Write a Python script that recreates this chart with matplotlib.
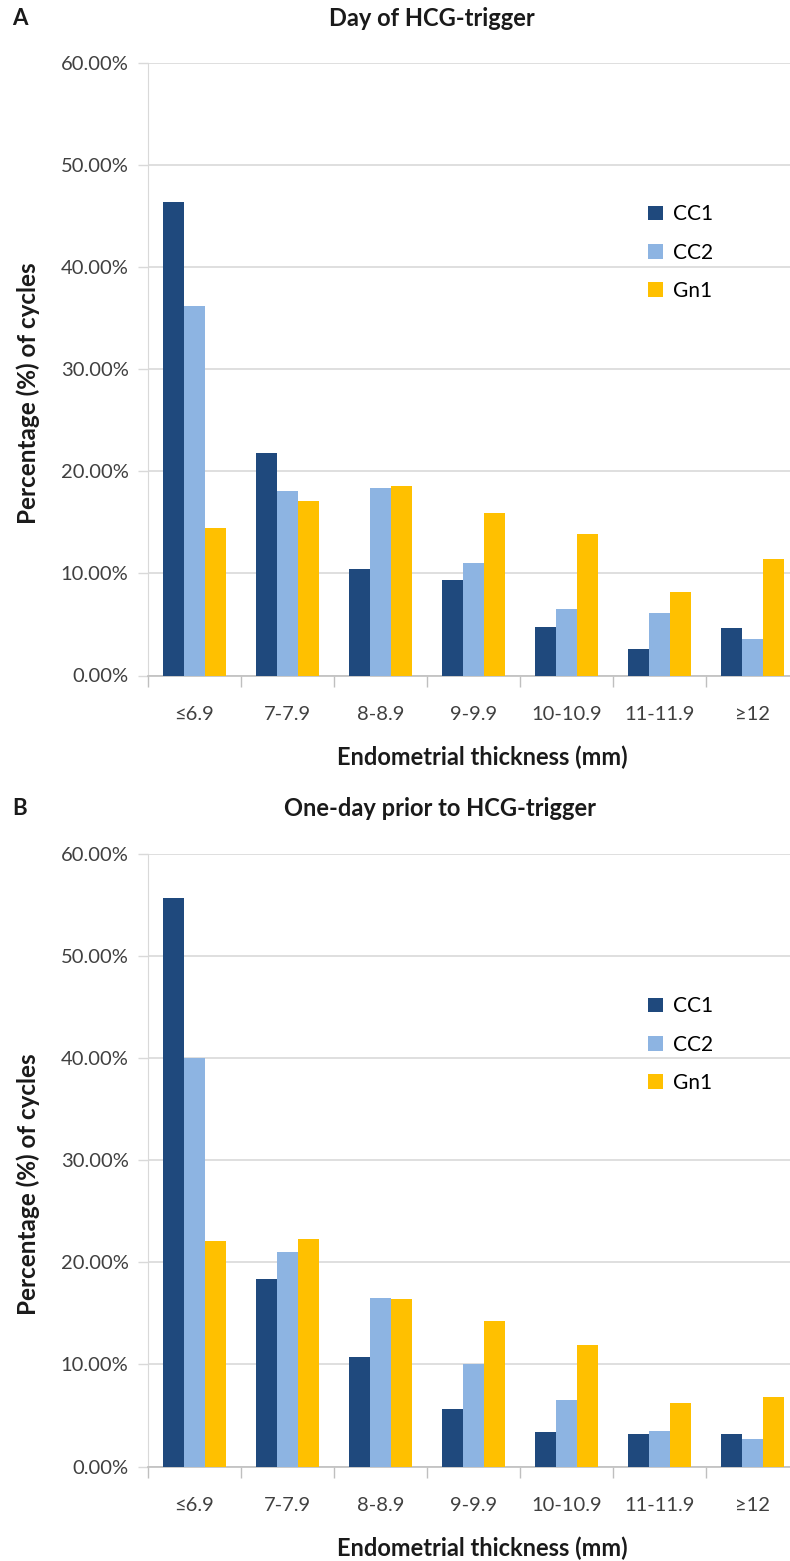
import matplotlib.pyplot as plt
import numpy as np

# data (percent of cycles)
categories = ['≤6.9', '7-7.9', '8-8.9', '9-9.9', '10-10.9', '11-11.9', '≥12']
series = ['CC1', 'CC2', 'Gn1']

day_cc1 = [46.4, 21.8, 10.4, 9.4, 4.8, 2.6, 4.7]
day_cc2 = [36.2, 18.1, 18.4, 11.0, 6.5, 6.1, 3.6]
day_gn1 = [14.5, 17.1, 18.6, 15.9, 13.9, 8.2, 11.4]

prior_cc1 = [55.7, 18.4, 10.7, 5.6, 3.4, 3.2, 3.2]
prior_cc2 = [40.0, 21.0, 16.5, 10.0, 6.5, 3.5, 2.7]
prior_gn1 = [22.1, 22.3, 16.4, 14.3, 11.9, 6.2, 6.8]

colors = ['#1F497D', '#8DB4E2', '#FFC000']
fonts = ['Lato', 'DejaVu Sans']
plt.rcParams['font.family'] = fonts

W, H = 790, 1561
fig = plt.figure(figsize=(W / 100, H / 100), dpi=100)


def px(x, y):
    return x / W, 1 - y / H


def panel(top, bottom, letter, title, title_x, data, leg_y):
    l = 148 / W
    w = 651 / W
    ax = fig.add_axes([l, 1 - bottom / H, w, (bottom - top) / H])
    x = np.arange(len(categories))
    bw = 0.226
    for k, vals in enumerate(data):
        ax.bar(x + (k - 1) * bw, vals, bw, color=colors[k], label=series[k], zorder=3)
    ax.set_xlim(-0.5, len(categories) - 0.5)
    ax.set_ylim(0, 60)
    ax.set_yticks(np.arange(0, 61, 10))
    ax.set_yticklabels([f'{v:.2f}%' for v in np.arange(0, 61, 10)])
    ax.yaxis.grid(True, color='#D9D9D9', lw=1.2, zorder=0)
    ax.set_xticks(np.arange(-0.5, len(categories)), minor=False)
    ax.set_xticklabels([])
    ax.set_xticks(x, minor=True)
    ax.set_xticklabels(categories, minor=True)
    ax.tick_params(axis='x', which='major', length=8, color='#BFBFBF', width=1)
    ax.tick_params(axis='x', which='minor', length=0, pad=22, labelsize=14.5, labelcolor='#404040')
    ax.tick_params(axis='y', length=7, color='#D9D9D9', width=1, pad=7,
                   labelsize=14.5, labelcolor='#404040')
    for s in ['top', 'right']:
        ax.spines[s].set_visible(False)
    ax.spines['left'].set_color('#D9D9D9')
    ax.spines['bottom'].set_color('#BFBFBF')
    ax.spines['bottom'].set_linewidth(1.2)

    fig.text(*px(482, bottom + 82), 'Endometrial thickness (mm)', ha='center', va='center',
             fontsize=17, fontweight='bold', color='#1a1a1a')
    fig.text(*px(28, top + 330), 'Percentage (%) of cycles', ha='center',
             va='center', rotation=90, fontsize=17.5, fontweight='bold', color='#1a1a1a')
    fig.text(*px(20, top - 45), letter, ha='center', va='center', fontsize=16,
             fontweight='bold', color='#1a1a1a')
    fig.text(*px(title_x, top - 45), title, ha='center', va='center', fontsize=17,
             fontweight='bold', color='#1a1a1a')

    ax.legend(loc='upper left', bbox_to_anchor=((640 - 148) / 651, 1 - (leg_y - top) / (bottom - top)),
              frameon=False, fontsize=15, handlelength=0.7, handleheight=0.7,
              handletextpad=0.5, labelspacing=0.88, borderaxespad=0)
    return ax


panel(63.3, 675.5, 'A', 'Day of HCG-trigger', 432, [day_cc1, day_cc2, day_gn1], 196)
panel(854, 1466.5, 'B', 'One-day prior to HCG-trigger', 440, [prior_cc1, prior_cc2, prior_gn1], 988)

fig.savefig('out.png', dpi=100)
